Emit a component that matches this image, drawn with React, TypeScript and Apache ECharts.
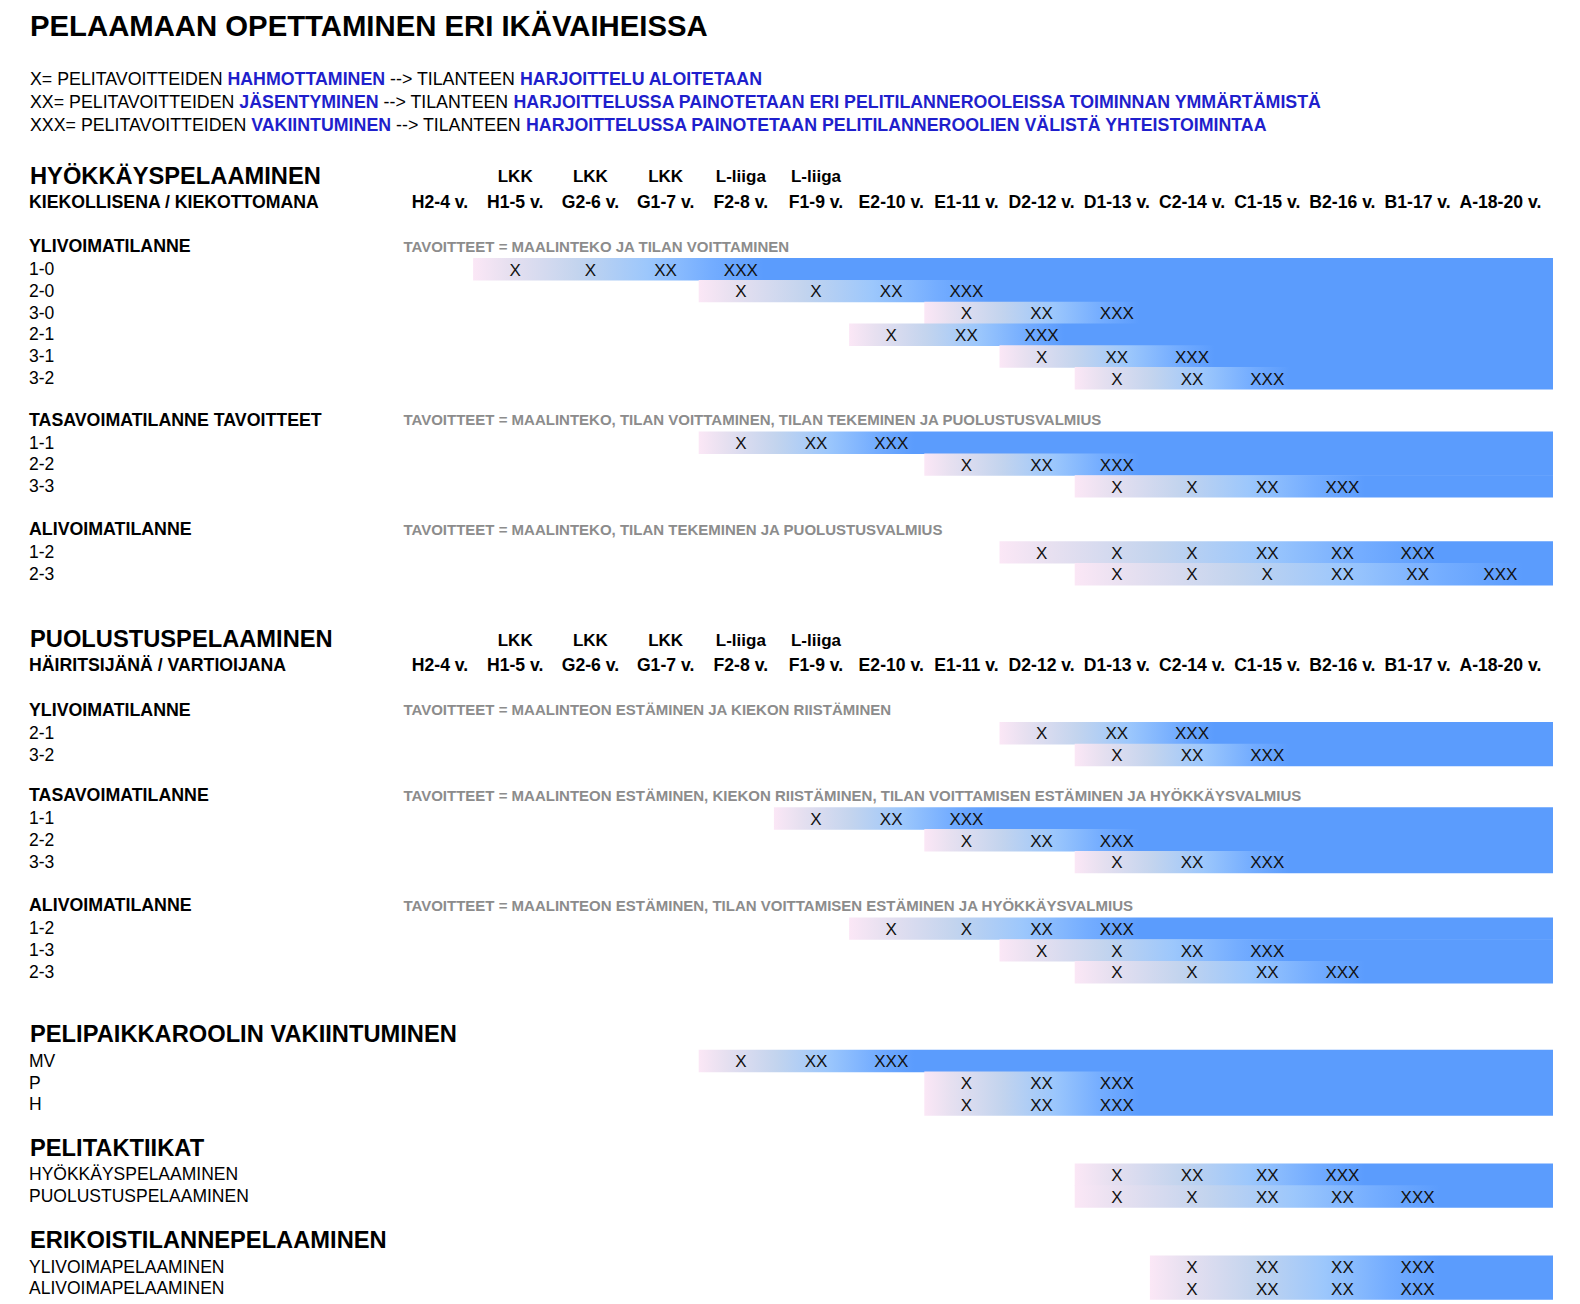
import React, { useEffect, useRef } from "react";
import * as echarts from "echarts";

// ---------- DATA ----------
const chartTitle = "PELAAMAAN OPETTAMINEN ERI IKÄVAIHEISSA";

const ageLabels = [
  "H2-4 v.", "H1-5 v.", "G2-6 v.", "G1-7 v.", "F2-8 v.", "F1-9 v.", "E2-10 v.", "E1-11 v.",
  "D2-12 v.", "D1-13 v.", "C2-14 v.", "C1-15 v.", "B2-16 v.", "B1-17 v.", "A-18-20 v.",
];
const levelLabels = ["", "LKK", "LKK", "LKK", "L-liiga", "L-liiga", "", "", "", "", "", "", "", "", ""];

const legendKeys = ["X=", "XX=", "XXX="];
const legendStages = ["HAHMOTTAMINEN", "JÄSENTYMINEN", "VAKIINTUMINEN"];
const legendTraining = [
  "HARJOITTELU ALOITETAAN",
  "HARJOITTELUSSA PAINOTETAAN ERI PELITILANNEROOLEISSA TOIMINNAN YMMÄRTÄMISTÄ",
  "HARJOITTELUSSA PAINOTETAAN PELITILANNEROOLIEN VÄLISTÄ YHTEISTOIMINTAA",
];

// rows: [label, first age column index, marks from that column on]
type Row = [string, number, string];
const attackPowerPlay: Row[] = [
  ["1-0", 1, "X X XX XXX"],
  ["2-0", 4, "X X XX XXX"],
  ["3-0", 7, "X XX XXX"],
  ["2-1", 6, "X XX XXX"],
  ["3-1", 8, "X XX XXX"],
  ["3-2", 9, "X XX XXX"],
];
const attackEven: Row[] = [
  ["1-1", 4, "X XX XXX"],
  ["2-2", 7, "X XX XXX"],
  ["3-3", 9, "X X XX XXX"],
];
const attackShort: Row[] = [
  ["1-2", 8, "X X X XX XX XXX"],
  ["2-3", 9, "X X X XX XX XXX"],
];
const defencePowerPlay: Row[] = [
  ["2-1", 8, "X XX XXX"],
  ["3-2", 9, "X XX XXX"],
];
const defenceEven: Row[] = [
  ["1-1", 5, "X XX XXX"],
  ["2-2", 7, "X XX XXX"],
  ["3-3", 9, "X XX XXX"],
];
const defenceShort: Row[] = [
  ["1-2", 6, "X X XX XXX"],
  ["1-3", 8, "X X XX XXX"],
  ["2-3", 9, "X X XX XXX"],
];
const positionRoles: Row[] = [
  ["MV", 4, "X XX XXX"],
  ["P", 7, "X XX XXX"],
  ["H", 7, "X XX XXX"],
];
const tactics: Row[] = [
  ["HYÖKKÄYSPELAAMINEN", 9, "X XX XX XXX"],
  ["PUOLUSTUSPELAAMINEN", 9, "X X XX XX XXX"],
];
const specialTeams: Row[] = [
  ["YLIVOIMAPELAAMINEN", 10, "X XX XX XXX"],
  ["ALIVOIMAPELAAMINEN", 10, "X XX XX XXX"],
];

const goals = [
  "TAVOITTEET = MAALINTEKO JA TILAN VOITTAMINEN",
  "TAVOITTEET = MAALINTEKO, TILAN VOITTAMINEN, TILAN TEKEMINEN JA PUOLUSTUSVALMIUS",
  "TAVOITTEET = MAALINTEKO, TILAN TEKEMINEN JA PUOLUSTUSVALMIUS",
  "TAVOITTEET = MAALINTEON ESTÄMINEN JA KIEKON RIISTÄMINEN",
  "TAVOITTEET = MAALINTEON ESTÄMINEN, KIEKON RIISTÄMINEN, TILAN VOITTAMISEN ESTÄMINEN JA HYÖKKÄYSVALMIUS",
  "TAVOITTEET = MAALINTEON ESTÄMINEN, TILAN VOITTAMISEN ESTÄMINEN JA HYÖKKÄYSVALMIUS",
];

// ---------- LAYOUT (positions / styles) ----------
const FONT = "'Liberation Sans', Arial, Helvetica, sans-serif";
const ROW = 21.8;
const END = 14.8; // right end of bars on the age axis
const LEFT_X = 29;
// position of each age column on the x axis (the last, wider column sits a little further right)
const colX = (i: number) => (i >= 14 ? i + 0.1 : i);

type Block =
  | { kind: "section"; title: string; sub?: string; gap: number; rows?: Row[] }
  | { kind: "group"; title: string; goal: string; rows: Row[]; gap: number };

const blocks: Block[] = [
  { kind: "section", title: "HYÖKKÄYSPELAAMINEN", sub: "KIEKOLLISENA / KIEKOTTOMANA", gap: 175.5 },
  { kind: "group", title: "YLIVOIMATILANNE", goal: goals[0], rows: attackPowerPlay, gap: 44.5 },
  { kind: "group", title: "TASAVOIMATILANNE TAVOITTEET", goal: goals[1], rows: attackEven, gap: 41.5 },
  { kind: "group", title: "ALIVOIMATILANNE", goal: goals[2], rows: attackShort, gap: 43 },
  { kind: "section", title: "PUOLUSTUSPELAAMINEN", sub: "HÄIRITSIJÄNÄ / VARTIOIJANA", gap: 65.5 },
  { kind: "group", title: "YLIVOIMATILANNE", goal: goals[3], rows: defencePowerPlay, gap: 44.5 },
  { kind: "group", title: "TASAVOIMATILANNE", goal: goals[4], rows: defenceEven, gap: 40.5 },
  { kind: "group", title: "ALIVOIMATILANNE", goal: goals[5], rows: defenceShort, gap: 43.5 },
  { kind: "section", title: "PELIPAIKKAROOLIN VAKIINTUMINEN", rows: positionRoles, gap: 62.5 },
  { kind: "section", title: "PELITAKTIIKAT", rows: tactics, gap: 43.8 },
  { kind: "section", title: "ERIKOISTILANNEPELAAMINEN", rows: specialTeams, gap: 44 },
];

type Item = { kind: string; y: number; text?: string; row?: Row; idx?: number };

function buildItems(): Item[] {
  const items: Item[] = [];
  items.push({ kind: "title", y: 25, text: chartTitle });
  legendKeys.forEach((_, i) => items.push({ kind: "legend", y: 78.8 + i * 23.2, idx: i }));
  let cursor = 0;
  for (const b of blocks) {
    const top = cursor + b.gap;
    if (b.kind === "section") {
      items.push({ kind: "section", y: top, text: b.title });
      cursor = top;
      if (b.sub) {
        items.push({ kind: "levels", y: top + 1 });
        items.push({ kind: "sub", y: top + 26, text: b.sub });
        items.push({ kind: "ages", y: top + 26 });
        cursor = top + 26;
      }
      if (b.rows) {
        b.rows.forEach((r, i) => items.push({ kind: "row", y: top + 26.3 + i * ROW, row: r }));
        cursor = top + 26.3 + (b.rows.length - 1) * ROW;
      }
    } else {
      items.push({ kind: "group", y: top, text: b.title });
      items.push({ kind: "goal", y: top, text: b.goal });
      b.rows.forEach((r, i) => items.push({ kind: "row", y: top + 23 + i * ROW, row: r }));
      cursor = top + 23 + (b.rows.length - 1) * ROW;
    }
  }
  return items;
}

function txt(x: number, y: number, text: string, size: number, weight: string, fill: string, align = "left") {
  return {
    type: "text",
    x,
    y,
    style: {
      text,
      fill,
      fontSize: size,
      fontWeight: weight,
      fontFamily: FONT,
      textAlign: align,
      align,
      textVerticalAlign: "middle",
      verticalAlign: "middle",
    },
  };
}

function barFill(f: number) {
  return new echarts.graphic.LinearGradient(0, 0, 1, 0, [
    { offset: 0, color: "#fbe7f6" },
    { offset: f * 0.12, color: "#e7e0f0" },
    { offset: f * 0.36, color: "#c3d4ee" },
    { offset: f * 0.6, color: "#9cc7fc" },
    { offset: f * 0.82, color: "#74adff" },
    { offset: f, color: "#5b9cfd" },
    { offset: 1, color: "#5b9cfd" },
  ]);
}

export default function App() {
  const ref = useRef<HTMLDivElement>(null);
  useEffect(() => {
    if (!ref.current) return;
    const chart = echarts.init(ref.current, undefined, { renderer: "svg" });
    const items = buildItems();

    const renderItem = (params: any, api: any) => {
      const it = items[params.dataIndex];
      const y = api.coord([0, api.value(1)])[1];
      const children: any[] = [];
      switch (it.kind) {
        case "title":
          children.push(txt(30, y, it.text!, 29.3, "bold", "#000"));
          break;
        case "legend": {
          const i = it.idx!;
          children.push({
            type: "text",
            x: 30,
            y,
            style: {
              text:
                `{n|${legendKeys[i]} PELITAVOITTEIDEN }{b|${legendStages[i]}}{n| --> TILANTEEN }{b|${legendTraining[i]}}`,
              textVerticalAlign: "middle",
              verticalAlign: "middle",
              rich: {
                n: { fontSize: 17.8, fontFamily: FONT, fill: "#000", color: "#000" },
                b: { fontSize: 17.8, fontFamily: FONT, fontWeight: "bold", fill: "#1f1fcc", color: "#1f1fcc" },
              },
            },
          });
          break;
        }
        case "section":
          children.push(txt(30, y, it.text!, 23.7, "bold", "#000"));
          break;
        case "sub":
          children.push(txt(LEFT_X, y, it.text!, 17.7, "bold", "#000"));
          break;
        case "levels":
          levelLabels.forEach((l, i) => {
            if (l) children.push(txt(api.coord([colX(i), 0])[0], y, l, 17, "bold", "#000", "center"));
          });
          break;
        case "ages":
          ageLabels.forEach((l, i) => {
            children.push(txt(api.coord([colX(i), 0])[0], y, l, 17.6, "bold", "#000", "center"));
          });
          break;
        case "group":
          children.push(txt(LEFT_X, y, it.text!, 17.8, "bold", "#000"));
          break;
        case "goal":
          children.push(txt(api.coord([-0.5, 0])[0] + 1, y, it.text!, 15, "bold", "#8c8c8c"));
          break;
        case "row": {
          const [label, start, marksStr] = it.row!;
          const marks = marksStr.split(" ");
          const x0 = api.coord([start - 0.56, 0])[0];
          const x1 = api.coord([END, 0])[0];
          const xg = api.coord([colX(start + marks.length - 1) + 0.3, 0])[0];
          const h = api.size([0, ROW])[1];
          const f = Math.min(1, Math.max(0.05, (xg - x0) / (x1 - x0)));
          children.push({
            type: "rect",
            shape: { x: x0, y: y - h / 2, width: x1 - x0, height: h + 0.6 },
            style: { fill: barFill(f) },
          });
          marks.forEach((m, k) => {
            children.push(txt(api.coord([colX(start + k), 0])[0], y + 1, m, 17, "normal", "#111", "center"));
          });
          children.push(txt(LEFT_X, y, label, 17.5, "normal", "#000"));
          break;
        }
      }
      return { type: "group", children };
    };

    chart.setOption({
      animation: false,
      backgroundColor: "#ffffff",
      grid: { left: 402.4, right: 27, top: 0, bottom: 0 },
      xAxis: { type: "value", min: -0.5, max: END, show: false },
      yAxis: { type: "value", min: 0, max: 1304, inverse: true, show: false },
      series: [
        {
          type: "custom",
          clip: false,
          silent: true,
          renderItem,
          data: items.map((it) => [0, it.y]),
        },
      ],
    });
    return () => chart.dispose();
  }, []);

  return (
    <div
      ref={ref}
      style={{ position: "absolute", left: 0, top: 0, width: 1580, height: 1304, background: "#fff" }}
    />
  );
}
